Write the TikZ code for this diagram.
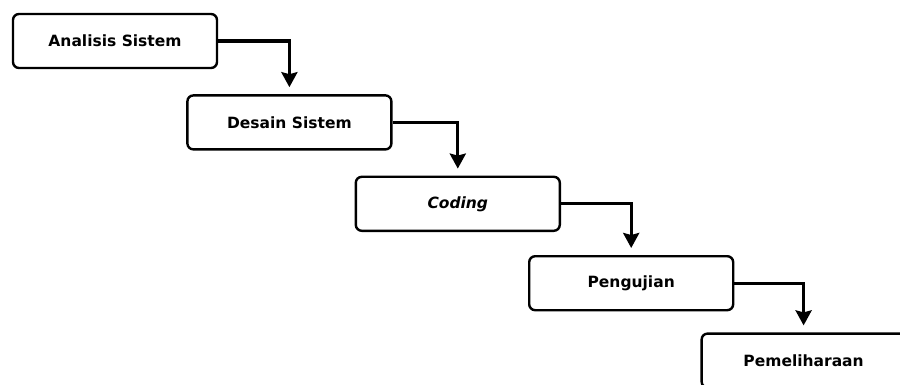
\documentclass[tikz,border=0pt]{standalone}
\usepackage{fontspec}
\setmainfont{DejaVu Sans}
\usepackage{tikz}
\usetikzlibrary{arrows.meta, positioning}

\begin{document}
\begin{tikzpicture}[
node distance=25pt and -32pt,
every node/.style={
draw,
rectangle,
rounded corners=6pt,
align=center,
minimum width=204pt,
minimum height=54pt,
line width=2.4pt,
font=\fontsize{15.5}{18}\selectfont\bfseries,
inner sep=2pt
},
arrow/.style={-{Stealth[length=15pt,width=16pt,inset=2pt]}, line width=3.2pt, shorten >=7pt}
]
\useasboundingbox (0pt,0pt) rectangle (900pt,-385pt);

\node (analisis) at (115pt,-41pt) {Analisis Sistem};
\node (desain) [below right=of analisis] {Desain Sistem};
\node (coding) [below right=25pt and -38pt of desain] {\textit{Coding}};
\node (uji) [below right=23pt and -33pt of coding] {Pengujian};
\node (pelihara) [below right=21pt and -34pt of uji] {Pemeliharaan};

\draw[arrow] (analisis.east) -| (desain.north);
\draw[arrow] (desain.east) -| (coding.north);
\draw[arrow] (coding.east) -| (uji.north);
\draw[arrow] (uji.east) -| (pelihara.north);

\end{tikzpicture}
\end{document}
